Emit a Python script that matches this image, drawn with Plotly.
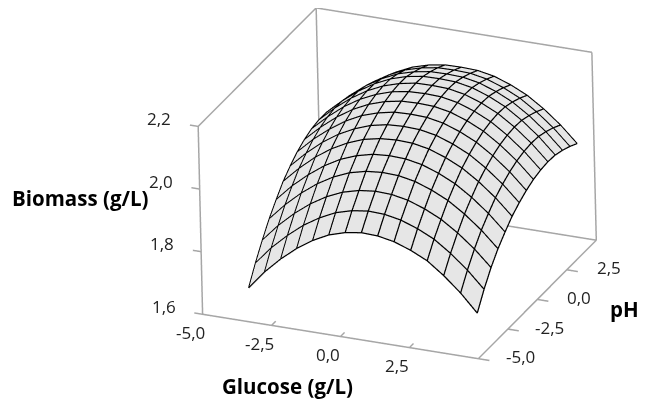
import plotly.graph_objects as go

glucose = [-3.3, -2.71, -2.11, -1.52, -0.93, -0.34, 0.26, 0.85, 1.44, 2.03, 2.63, 3.22, 3.81, 4.41, 5.0]
ph = [-5.0, -4.39, -3.77, -3.16, -2.54, -1.93, -1.31, -0.70, -0.09, 0.53, 1.14, 1.76, 2.37, 2.99, 3.6]
biomass = [
 [1.707,1.766,1.816,1.858,1.892,1.918,1.934,1.942,1.940,1.930,1.911,1.886,1.847,1.800,1.744],
 [1.763,1.820,1.868,1.909,1.941,1.966,1.981,1.988,1.986,1.976,1.957,1.932,1.895,1.850,1.797],
 [1.813,1.868,1.915,1.954,1.985,2.008,2.022,2.028,2.026,2.016,1.997,1.972,1.937,1.894,1.843],
 [1.858,1.911,1.957,1.995,2.025,2.047,2.060,2.065,2.063,2.053,2.034,2.009,1.974,1.931,1.880],
 [1.896,1.948,1.992,2.029,2.058,2.078,2.091,2.095,2.093,2.083,2.064,2.039,2.004,1.961,1.910],
 [1.931,1.981,2.025,2.060,2.087,2.107,2.118,2.122,2.120,2.110,2.091,2.066,2.031,1.988,1.937],
 [1.957,2.006,2.049,2.083,2.109,2.128,2.139,2.142,2.140,2.130,2.111,2.086,2.051,2.008,1.957],
 [1.979,2.027,2.068,2.102,2.128,2.145,2.156,2.158,2.156,2.146,2.127,2.102,2.067,2.024,1.973],
 [1.995,2.042,2.083,2.116,2.141,2.158,2.168,2.170,2.168,2.158,2.139,2.114,2.079,2.036,1.985],
 [2.006,2.052,2.093,2.125,2.149,2.166,2.175,2.177,2.175,2.165,2.146,2.121,2.086,2.043,1.992],
 [2.011,2.057,2.097,2.129,2.153,2.169,2.179,2.180,2.178,2.168,2.149,2.124,2.089,2.046,1.995],
 [2.011,2.056,2.096,2.128,2.152,2.168,2.177,2.178,2.176,2.166,2.147,2.122,2.087,2.044,1.993],
 [2.005,2.050,2.090,2.121,2.145,2.160,2.169,2.170,2.168,2.158,2.139,2.114,2.079,2.036,1.985],
 [1.994,2.039,2.079,2.110,2.134,2.149,2.158,2.159,2.157,2.147,2.128,2.103,2.068,2.025,1.974],
 [1.980,2.025,2.065,2.096,2.120,2.135,2.144,2.145,2.143,2.133,2.114,2.089,2.054,2.011,1.960],
]
glucose_ticks = [-5.0, -2.5, 0.0, 2.5]
ph_ticks = [-5.0, -2.5, 0.0, 2.5]
biomass_ticks = [1.6, 1.8, 2.0, 2.2]
x_range = [-5.5, 5.5]
y_range = [-5.5, 5.5]
z_range = [1.59, 2.21]
# back walls of the box, as axis-range corners
wall_x = [-5, -5, -5, -5, 5, 5, 5, None, -5, 5]
wall_y = [-5, -5, 5, 5, 5, 5, 5, None, 5, 5]
wall_z = [1.6, 2.2, 2.2, 1.6, 1.6, 2.2, 2.2, None, 2.2, 2.2]
floor_x = [-5, 5, 5]
floor_y = [-5, -5, 5]
floor_z = [1.6, 1.6, 1.6]

def lab(v):
    return f"{v:.1f}".replace(".", ",")

font = "Open Sans"
grey = "#a6a6a6"
tick_color = "#222222"
tx, ty, tz = [], [], []
for v in glucose_ticks[1:]:
    tx += [v, v, None]; ty += [-5, -4.65, None]; tz += [1.6, 1.6, None]
for v in ph_ticks:
    tx += [5, 5.4, None]; ty += [v, v, None]; tz += [1.6, 1.6, None]
for v in biomass_ticks:
    tx += [-5, -5.3, None]; ty += [-5, -5, None]; tz += [v, v, None]

# mesh lines follow the surface values, lifted a hair so they sit on top of it
LIFT = 0.0015
mx, my, mz = [], [], []
for j, y in enumerate(ph):
    for i, x in enumerate(glucose):
        mx.append(x); my.append(y); mz.append(biomass[j][i] + LIFT)
    mx.append(None); my.append(None); mz.append(None)
for i, x in enumerate(glucose):
    for j, y in enumerate(ph):
        mx.append(x); my.append(y); mz.append(biomass[j][i] + LIFT)
    mx.append(None); my.append(None); mz.append(None)

axis = dict(showbackground=False, showgrid=False, zeroline=False, showspikes=False,
            showline=False, ticks="", showticklabels=False, title=dict(text=""))
fig = go.Figure()
for xs, ys, zs in [(wall_x, wall_y, wall_z), (floor_x, floor_y, floor_z), (tx, ty, tz)]:
    fig.add_trace(go.Scatter3d(x=xs, y=ys, z=zs, mode="lines",
                               line=dict(color=grey, width=3), hoverinfo="skip"))
fig.add_trace(go.Surface(
    x=glucose, y=ph, z=biomass, showscale=False,
    colorscale=[[0, "#e6e6e6"], [1, "#e6e6e6"]],
    lighting=dict(ambient=1, diffuse=0, specular=0, roughness=1, fresnel=0),
    contours=dict(x=dict(show=False), y=dict(show=False), z=dict(show=False)),
))
fig.add_trace(go.Scatter3d(x=mx, y=my, z=mz, mode="lines",
                           line=dict(color="#000000", width=2.5), hoverinfo="skip"))
tick_font = dict(family=font, size=17, color=tick_color)
title_font = dict(family=font, size=20.5, color="black")
anns = []
for v in glucose_ticks:
    anns.append(dict(x=v, y=-5, z=1.6, text=lab(v), showarrow=False, xshift=-12, yshift=-18, font=tick_font))
for v in ph_ticks:
    anns.append(dict(x=5, y=v, z=1.6, text=lab(v), showarrow=False, xshift=42, yshift=2, font=tick_font))
for v in biomass_ticks:
    anns.append(dict(x=-5, y=-5, z=v, text=lab(v), showarrow=False, xshift=-39, yshift=8, font=tick_font))
title_common = dict(xref="paper", yref="paper", xanchor="center", yanchor="middle", showarrow=False, font=title_font)
fig.update_layout(
    width=646, height=404, margin=dict(l=0, r=0, t=0, b=0),
    paper_bgcolor="white", showlegend=False,
    annotations=[
        dict(title_common, x=72.5/646, y=1-190/404, text="<b>Biomass (g/L)</b>"),
        dict(title_common, x=279/646, y=1-378/404, text="<b>Glucose (g/L)</b>"),
        dict(title_common, x=616/646, y=1-301/404, text="<b>pH</b>"),
    ],
    scene=dict(
        domain=dict(x=[0, 1], y=[0, 1]),
        xaxis=dict(axis, range=x_range),
        yaxis=dict(axis, range=y_range),
        zaxis=dict(axis, range=z_range),
        annotations=anns,
        aspectmode="manual", aspectratio=dict(x=1.6335, y=1.6335, z=1.06),
        camera=dict(eye=dict(x=0.5392, y=-2.0493, z=0.8352), center=dict(x=-0.2818, y=-0.1813, z=-0.1128),
                    up=dict(x=-0.148, y=0.395, z=0.907), projection=dict(type="orthographic")),
    ),
)
fig.write_html("out.html")
